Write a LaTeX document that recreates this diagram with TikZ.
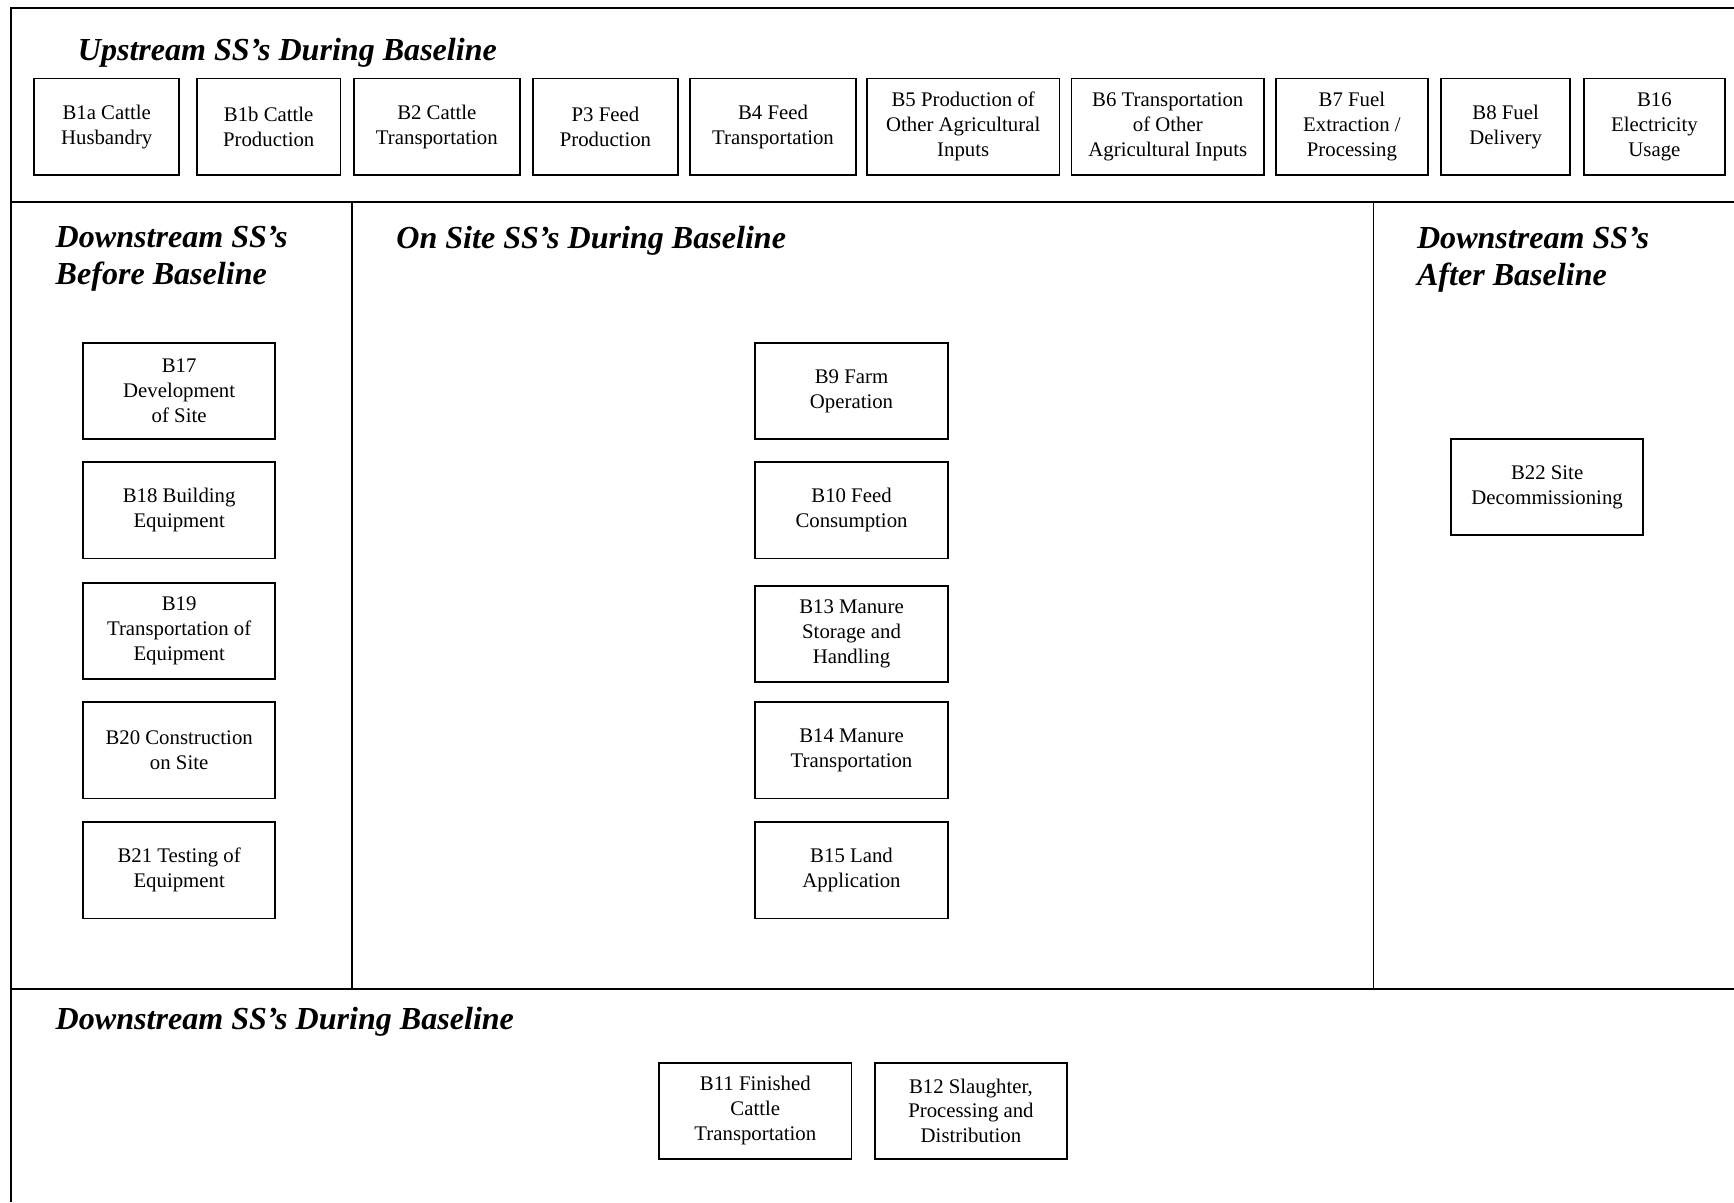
\documentclass[tikz,border=0pt]{standalone}
\usepackage{fontspec}
\setmainfont{Liberation Serif}
\begin{document}
\begin{tikzpicture}[x=0.5pt,y=-0.5pt,
  box/.style={draw, line width=0.8pt, inner sep=0pt, align=center,
    minimum height=43.5pt, font=\fontsize{9.4}{11.25}\selectfont,
    execute at begin node={\rule{0pt}{8.5pt}}},
  ttl/.style={inner sep=0pt, anchor=base west, align=left,
    font=\fontsize{14.5}{16.5}\selectfont\bfseries\itshape},
  frame/.style={line width=1.1pt},
  divider/.style={line width=0.8pt}]
\useasboundingbox (0,0) rectangle (1568,1087);
% frame and dividers
\draw[frame] (10,1087) -- (10,7) -- (1568,7);
\draw[divider] (10,183) -- (1568,183);
\draw[divider] (10,894) -- (1568,894);
\draw[divider] (318,183) -- (318,894);
\draw[divider] (1242,183) -- (1242,894);
% titles
\node[ttl] (tup) at (70,55) {Upstream SS’s During Baseline};
\node[ttl] (tbef1) at (50,224) {Downstream SS’s};
\node[ttl] (tbef2) at (50,257) {Before Baseline};
\node[ttl] (tons) at (358,225) {On Site SS’s During Baseline};
\node[ttl] (taft1) at (1281,225) {Downstream SS’s};
\node[ttl] (taft2) at (1281,258) {After Baseline};
\node[ttl] (tdown) at (50,931) {Downstream SS’s During Baseline};
% upstream boxes
\node[box, minimum width=65.5pt] (b1a) at (96.5,114.5) {B1a Cattle\\Husbandry};
\node[box, minimum width=65pt] (b1b) at (243,114.5) {B1b Cattle\\Production};
\node[box, minimum width=75pt] (b2) at (395,114.5) {B2 Cattle\\Transportation};
\node[box, minimum width=65.5pt] (p3) at (547.5,114.5) {P3 Feed\\Production};
\node[box, minimum width=75pt] (b4) at (699,114.5) {B4 Feed\\Transportation};
\node[box, minimum width=87pt] (b5) at (871,114.5) {B5 Production of\\Other Agricultural\\Inputs};
\node[box, minimum width=87pt] (b6) at (1056,114.5) {B6 Transportation\\of Other\\Agricultural Inputs};
\node[box, minimum width=68.5pt] (b7) at (1222.5,114.5) {B7 Fuel\\Extraction /\\Processing};
\node[box, minimum width=58.5pt] (b8) at (1361.5,114.5) {B8 Fuel\\Delivery};
\node[box, minimum width=64pt] (b16) at (1496,114.5) {B16\\Electricity\\Usage};
% before baseline
\node[box, minimum width=87pt] (b17) at (162,353.5) {B17\\Development\\of Site};
\node[box, minimum width=87pt] (b18) at (162,461.5) {B18 Building\\Equipment};
\node[box, minimum width=87pt] (b19) at (162,570.5) {B19\\Transportation of\\Equipment};
\node[box, minimum width=87pt] (b20) at (162,678.5) {B20 Construction\\on Site};
\node[box, minimum width=87pt] (b21) at (162,787) {B21 Testing of\\Equipment};
% on site
\node[box, minimum width=87pt] (b9) at (770,353.5) {B9 Farm\\Operation};
\node[box, minimum width=87pt] (b10) at (770,461.5) {B10 Feed\\Consumption};
\node[box, minimum width=87pt] (b13) at (770,573.5) {B13 Manure\\Storage and\\Handling};
\node[box, minimum width=87pt] (b14) at (770,678.5) {B14 Manure\\Transportation};
\node[box, minimum width=87pt] (b15) at (770,787) {B15 Land\\Application};
% after baseline
\node[box, minimum width=87pt] (b22) at (1399,440.5) {B22 Site\\Decommissioning};
% downstream during
\node[box, minimum width=87pt] (b11) at (683,1004.5) {B11 Finished\\Cattle\\Transportation};
\node[box, minimum width=87pt] (b12) at (878,1004.5) {B12 Slaughter,\\Processing and\\Distribution};
\end{tikzpicture}
\end{document}
